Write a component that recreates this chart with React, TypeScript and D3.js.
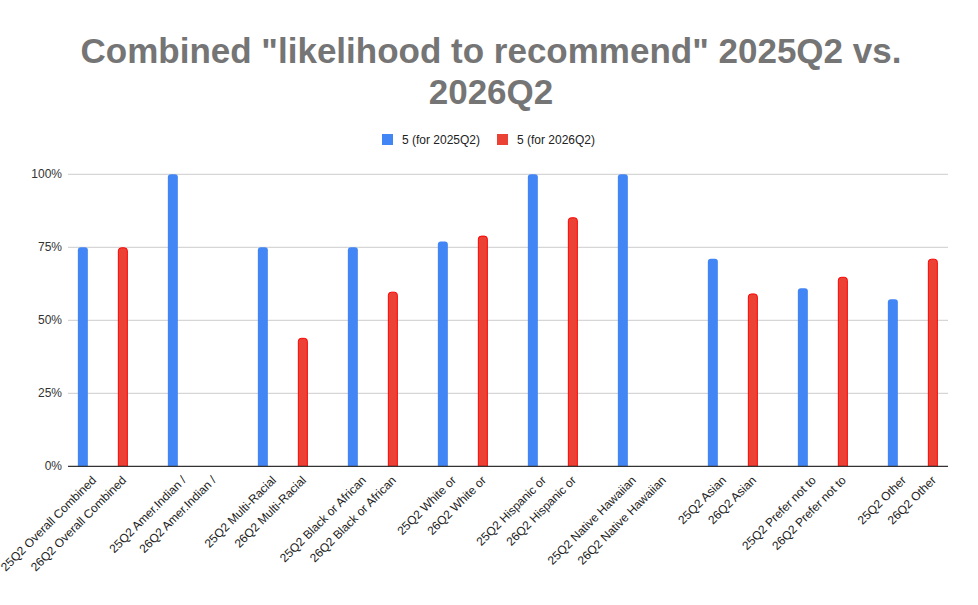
import React from "react";
import * as d3 from "d3";

const categories: string[] = [
  "25Q2 Overall Combined", "26Q2 Overall Combined", "",
  "25Q2 Amer.Indian /", "26Q2 Amer.Indian /", "",
  "25Q2 Multi-Racial", "26Q2 Multi-Racial", "",
  "25Q2 Black or African", "26Q2 Black or African", "",
  "25Q2 White or", "26Q2 White or", "",
  "25Q2 Hispanic or", "26Q2 Hispanic or", "",
  "25Q2 Native Hawaiian", "26Q2 Native Hawaiian", "",
  "25Q2 Asian", "26Q2 Asian", "",
  "25Q2 Prefer not to", "26Q2 Prefer not to", "",
  "25Q2 Other", "26Q2 Other",
];

const series2025: (number | null)[] = [
  0.75, null, null,
  1.0, null, null,
  0.75, null, null,
  0.75, null, null,
  0.77, null, null,
  1.0, null, null,
  1.0, null, null,
  0.711, null, null,
  0.61, null, null,
  0.572, null,
];

const series2026: (number | null)[] = [
  null, 0.75, null,
  null, null, null,
  null, 0.44, null,
  null, 0.598, null,
  null, 0.79, null,
  null, 0.853, null,
  null, null, null,
  null, 0.592, null,
  null, 0.649, null,
  null, 0.711,
];

const seriesNames = ["5 (for 2025Q2)", "5 (for 2026Q2)"];
const yTicks = [0, 0.25, 0.5, 0.75, 1];
const titleLines = ['Combined "likelihood to recommend" 2025Q2 vs.', "2026Q2"];

const W = 978;
const H = 605;
const FONT = '"Liberation Sans", Arial, sans-serif';
const plotLeft = 68;
const plotRight = 948;
const plotTop = 174.3;
const plotBottom = 466.3;

function barPath(x: number, y: number, w: number, h: number, r: number) {
  if (h <= 0) return "";
  const rr = Math.min(r, h, w / 2);
  return `M${x},${y + h}V${y + rr}Q${x},${y} ${x + rr},${y}H${x + w - rr}Q${x + w},${y} ${x + w},${y + rr}V${y + h}Z`;
}

export default function App() {
  const x = d3
    .scaleBand<number>()
    .domain(categories.map((_, i) => i))
    .range([72.85, 942.85])
    .paddingInner(0)
    .paddingOuter(0);
  const xSub = d3.scaleBand<number>().domain([0, 1]).range([5, 25]).padding(0);
  const y = d3.scaleLinear().domain([0, 1]).range([plotBottom, plotTop]);
  const fmt = d3.format(".0%");

  const seriesList = [
    { values: series2025, fill: "#4285f4", stroke: "none" },
    { values: series2026, fill: "#ea4335", stroke: "#ff0000" },
  ];

  return (
    <svg
      width={W}
      height={H}
      style={{ position: "fixed", left: 0, top: 0, background: "#fff" }}
      fontFamily={FONT}
    >
      <rect x={0} y={0} width={W} height={H} fill="#fff" />
      {titleLines.map((t, i) => (
        <text
          key={i}
          x={491}
          y={63 + i * 40.5}
          textAnchor="middle"
          fontSize={35}
          fontWeight="bold"
          fill="#757575"
        >
          {t}
        </text>
      ))}
      {/* legend */}
      <g>
        <rect x={382} y={134} width={11} height={11} fill="#4285f4" />
        <text x={402} y={144} fontSize={12} fill="#222">{seriesNames[0]}</text>
        <rect x={497} y={134} width={11} height={11} fill="#ea4335" />
        <text x={517} y={144} fontSize={12} fill="#222">{seriesNames[1]}</text>
      </g>
      {/* gridlines */}
      {yTicks.map((t) => (
        <g key={t}>
          {t > 0 && (
            <line x1={plotLeft} x2={plotRight} y1={y(t)} y2={y(t)} stroke="#cccccc" strokeWidth={1} />
          )}
          <text x={62} y={y(t) + 4} textAnchor="end" fontSize={12} fill="#333">
            {fmt(t)}
          </text>
        </g>
      ))}
      {/* bars */}
      {seriesList.map((s, si) =>
        s.values.map((v, i) => {
          if (v == null) return null;
          const inset = s.stroke !== "none" ? 0.5 : 0;
          const bx = (x(i) ?? 0) + (xSub(si) ?? 0);
          const bw = xSub.bandwidth();
          const by = y(v);
          const bh = y(0) - y(v);
          return (
            <path
              key={`${si}-${i}`}
              d={barPath(bx + inset, by + inset, bw - 2 * inset, bh - inset, 3)}
              fill={s.fill}
              stroke={s.stroke}
              strokeWidth={1}
            />
          );
        })
      )}
      <line x1={plotLeft} x2={plotRight} y1={plotBottom} y2={plotBottom} stroke="#333" strokeWidth={1.2} />
      {/* x labels */}
      {categories.map((c, i) => {
        const cx = (x(i) ?? 0) + x.bandwidth() / 2;
        const ax = cx + 9;
        const ay = 481;
        return (
          <text
            key={i}
            x={ax}
            y={ay}
            textAnchor="end"
            fontSize={12}
            fill="#222"
            transform={`rotate(-45 ${ax} ${ay})`}
          >
            {c}
          </text>
        );
      })}
    </svg>
  );
}
